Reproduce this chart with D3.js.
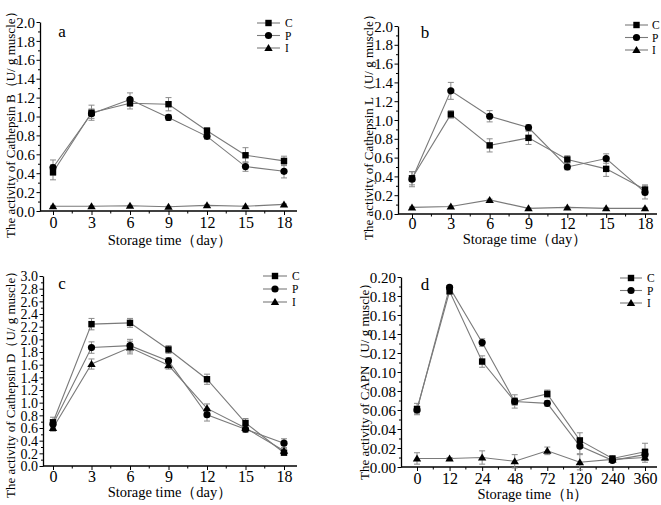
<!DOCTYPE html>
<html>
<head>
<meta charset="utf-8">
<script src="https://cdn.jsdelivr.net/npm/d3@7"></script>
<style>
  body { margin: 0; background: #fff; }
  text { font-family: "Liberation Serif", "Times New Roman", serif; fill: #000; }
  .domain { stroke: #000; stroke-width: 1.3; }
  .tick line { stroke: #000; stroke-width: 1; }
</style>
</head>
<body>
<svg id="chart" width="661" height="505"></svg>
<script>
// storage days for a-c, hours for d
var days = [0, 3, 6, 9, 12, 15, 18];
var hours = ["0", "12", "24", "48", "72", "120", "240", "360"];

// a - Cathepsin B
var catB_C = [0.41, 1.04, 1.14, 1.13, 0.85, 0.59, 0.53];
var catB_P = [0.46, 1.03, 1.18, 0.99, 0.79, 0.47, 0.42];
var catB_I = [0.05, 0.05, 0.055, 0.045, 0.06, 0.05, 0.07];
var catB_Cerr = [0.08, 0.08, 0.06, 0.07, 0.03, 0.08, 0.05];
var catB_Perr = [0.08, 0.05, 0.07, 0.03, 0.03, 0.05, 0.07];
var catB_Ierr = [0.005, 0.005, 0.005, 0.005, 0.005, 0.005, 0.005];

// b - Cathepsin L
var catL_C = [0.38, 1.06, 0.73, 0.81, 0.58, 0.48, 0.26];
var catL_P = [0.37, 1.31, 1.04, 0.92, 0.50, 0.59, 0.23];
var catL_I = [0.07, 0.08, 0.15, 0.06, 0.07, 0.06, 0.06];
var catL_Cerr = [0.07, 0.04, 0.07, 0.07, 0.04, 0.08, 0.05];
var catL_Perr = [0.08, 0.09, 0.06, 0.03, 0.03, 0.05, 0.07];
var catL_Ierr = [0.005, 0.005, 0.008, 0.005, 0.005, 0.005, 0.005];

// c - Cathepsin D
var catD_C = [0.69, 2.24, 2.26, 1.84, 1.37, 0.68, 0.21];
var catD_P = [0.66, 1.87, 1.90, 1.66, 0.81, 0.58, 0.36];
var catD_I = [0.60, 1.61, 1.87, 1.59, 0.91, 0.60, 0.24];
var catD_Cerr = [0.08, 0.09, 0.07, 0.06, 0.08, 0.07, 0.03];
var catD_Perr = [0.07, 0.09, 0.10, 0.05, 0.10, 0.05, 0.07];
var catD_Ierr = [0.05, 0.08, 0.10, 0.06, 0.07, 0.05, 0.04];

// d - CAPN
var capn_C = [0.061, 0.185, 0.111, 0.069, 0.077, 0.028, 0.009, 0.016];
var capn_P = [0.060, 0.189, 0.131, 0.069, 0.067, 0.022, 0.007, 0.013];
var capn_I = [0.009, 0.009, 0.010, 0.006, 0.017, 0.005, 0.008, 0.010];
var capn_Cerr = [0.006, 0.003, 0.006, 0.007, 0.004, 0.008, 0.002, 0.009];
var capn_Perr = [0.004, 0.002, 0.004, 0.004, 0.003, 0.008, 0.002, 0.005];
var capn_Ierr = [0.006, 0.001, 0.007, 0.007, 0.004, 0.008, 0.002, 0.005];

var seriesNames = ["C", "P", "I"];

var panels = [
  { letter: "a", x: days, ys: [catB_C, catB_P, catB_I], errs: [catB_Cerr, catB_Perr, catB_Ierr],
    ymax: 2.0, ystep: 0.2, fmt: ".1f", yfs: 15, axisX: 40, yTop: 22, yBot: 211, x0: 53, x1: 284, axisEnd: 297,
    ytitle: "The activity of Cathepsin B（U/ g muscle）", yTitleX: 15, yTitleY: 238,
    xtitle: "Storage time（day）", xTitleX: 170, xTitleY: 245, tickY: 228,
    letterX: 62, letterY: 37, leg: [257, 280, 285], legY: [23, 35.5, 48] },
  { letter: "b", x: days, ys: [catL_C, catL_P, catL_I], errs: [catL_Cerr, catL_Perr, catL_Ierr],
    ymax: 2.0, ystep: 0.2, fmt: ".1f", yfs: 15, axisX: 398, yTop: 26, yBot: 214, x0: 412, x1: 645, axisEnd: 657,
    ytitle: "The activity of Cathepsin L（U/ g muscle）", yTitleX: 373, yTitleY: 240,
    xtitle: "Storage time（day）", xTitleX: 525, xTitleY: 244, tickY: 229,
    letterX: 425, letterY: 38, leg: [625, 648, 652], legY: [25, 37.5, 50] },
  { letter: "c", x: days, ys: [catD_C, catD_P, catD_I], errs: [catD_Cerr, catD_Perr, catD_Ierr],
    ymax: 3.0, ystep: 0.2, fmt: ".1f", yfs: 14, axisX: 43, yTop: 276, yBot: 466, x0: 53, x1: 284, axisEnd: 297,
    ytitle: "The activity of Cathepsin D（U/ g muscle）", yTitleX: 15, yTitleY: 498,
    xtitle: "Storage time（day）", xTitleX: 170, xTitleY: 497, tickY: 482,
    letterX: 62, letterY: 289, leg: [263, 287, 292], legY: [276, 289, 302] },
  { letter: "d", x: hours, ys: [capn_C, capn_P, capn_I], errs: [capn_Cerr, capn_Perr, capn_Ierr],
    ymax: 0.20, ystep: 0.02, fmt: ".2f", yfs: 15, axisX: 401, yTop: 277, yBot: 467, x0: 417, x1: 645, axisEnd: 657,
    ytitle: "The activity of CAPN（U/ g muscle）", yTitleX: 369, yTitleY: 480,
    xtitle: "Storage time（h）", xTitleX: 533, xTitleY: 499, tickY: 484,
    letterX: 425, letterY: 290, leg: [620, 642, 647], legY: [278, 290.5, 303], cat: true }
];

var svg = d3.select("#chart");

function marker(g, kind, x, y) {
  if (kind === 0) {
    g.append("rect").attr("x", x - 3.2).attr("y", y - 3.2).attr("width", 6.4).attr("height", 6.4).attr("fill", "#000");
  } else if (kind === 1) {
    g.append("circle").attr("cx", x).attr("cy", y).attr("r", 3.6).attr("fill", "#000");
  } else {
    g.append("path").attr("d", "M" + x + "," + (y - 4) + "L" + (x + 4.2) + "," + (y + 3) + "L" + (x - 4.2) + "," + (y + 3) + "Z").attr("fill", "#000");
  }
}

panels.forEach(function(p) {
  var g = svg.append("g");
  var y = d3.scaleLinear().domain([0, p.ymax]).range([p.yBot, p.yTop]);
  var x;
  if (p.cat) {
    x = d3.scalePoint().domain(p.x).range([p.x0, p.x1]);
  } else {
    x = d3.scaleLinear().domain([0, 18]).range([p.x0, p.x1]);
  }

  var nMaj = Math.round(p.ymax / p.ystep);
  var majY = d3.range(nMaj + 1).map(function(i) { return +(i * p.ystep).toFixed(3); });
  var minY = d3.range(nMaj).map(function(i) { return +((i + 0.5) * p.ystep).toFixed(4); });

  // minor y ticks
  g.append("g").attr("transform", "translate(" + p.axisX + ",0)")
    .call(d3.axisLeft(y).tickValues(minY).tickSize(2).tickSizeOuter(0).tickFormat(""))
    .select(".domain").remove();
  // major y axis
  var ya = g.append("g").attr("transform", "translate(" + p.axisX + ",0)")
    .call(d3.axisLeft(y).tickValues(majY).tickSize(3.5).tickSizeOuter(0).tickPadding(1.5).tickFormat(d3.format(p.fmt)));
  ya.selectAll("text").style("font-size", p.yfs + "px").attr("dy", "0.34em");

  // x axis line
  g.append("line").attr("x1", p.axisX).attr("x2", p.axisEnd).attr("y1", p.yBot).attr("y2", p.yBot)
    .attr("stroke", "#000").attr("stroke-width", 1.3);

  var xa;
  if (p.cat) {
    xa = d3.axisBottom(x).tickSize(4).tickSizeOuter(0);
  } else {
    xa = d3.axisBottom(x).tickValues(p.x).tickSize(4).tickSizeOuter(0);
  }
  var xg = g.append("g").attr("transform", "translate(0," + p.yBot + ")").call(xa);
  xg.select(".domain").remove();
  xg.selectAll("text").style("font-size", "16px").attr("y", null).attr("dy", null)
    .attr("transform", "translate(0," + (p.tickY - p.yBot) + ")");

  // minor x ticks, halfway between majors
  var xpos = p.x.map(function(v) { return x(v); });
  var minX = d3.range(xpos.length - 1).map(function(i) { return (xpos[i] + xpos[i + 1]) / 2; });
  g.selectAll(".minx").data(minX).enter().append("line")
    .attr("x1", function(d) { return d; }).attr("x2", function(d) { return d; })
    .attr("y1", p.yBot).attr("y2", p.yBot + 2.5).attr("stroke", "#000");

  // series: error bars, lines, markers
  p.ys.forEach(function(vals, si) {
    var errs = p.errs[si];
    var eg = g.append("g");
    vals.forEach(function(v, i) {
      var cx = x(p.x[i]);
      var e = errs[i];
      eg.append("line").attr("x1", cx).attr("x2", cx).attr("y1", y(v - e)).attr("y2", y(v + e))
        .attr("stroke", "#8a8a8a").attr("stroke-width", 1);
      [v - e, v + e].forEach(function(w) {
        eg.append("line").attr("x1", cx - 3).attr("x2", cx + 3).attr("y1", y(w)).attr("y2", y(w))
          .attr("stroke", "#8a8a8a").attr("stroke-width", 1);
      });
    });
    var line = d3.line().x(function(d, i) { return x(p.x[i]); }).y(function(d) { return y(d); });
    g.append("path").datum(vals).attr("d", line).attr("fill", "none")
      .attr("stroke", "#7a7a7a").attr("stroke-width", 1.1);
  });
  p.ys.forEach(function(vals, si) {
    var mg = g.append("g");
    vals.forEach(function(v, i) { marker(mg, si, x(p.x[i]), y(v)); });
  });

  // legend
  seriesNames.forEach(function(name, si) {
    var ly = p.legY[si];
    g.append("line").attr("x1", p.leg[0]).attr("x2", p.leg[1]).attr("y1", ly).attr("y2", ly)
      .attr("stroke", "#7a7a7a").attr("stroke-width", 1.1);
    marker(g, si, (p.leg[0] + p.leg[1]) / 2, ly);
    g.append("text").attr("x", p.leg[2]).attr("y", ly + 4).style("font-size", "11.5px").text(name);
  });

  // panel letter
  g.append("text").attr("x", p.letterX).attr("y", p.letterY).attr("text-anchor", "middle")
    .style("font-size", "17px").text(p.letter);

  // axis titles
  g.append("text").attr("x", p.xTitleX).attr("y", p.xTitleY).attr("text-anchor", "middle")
    .style("font-size", "14.5px").text(p.xtitle);
  g.append("text").attr("transform", "translate(" + p.yTitleX + "," + p.yTitleY + ") rotate(-90)")
    .attr("text-anchor", "start").style("font-size", "13px").text(p.ytitle);
});
</script>
</body>
</html>
